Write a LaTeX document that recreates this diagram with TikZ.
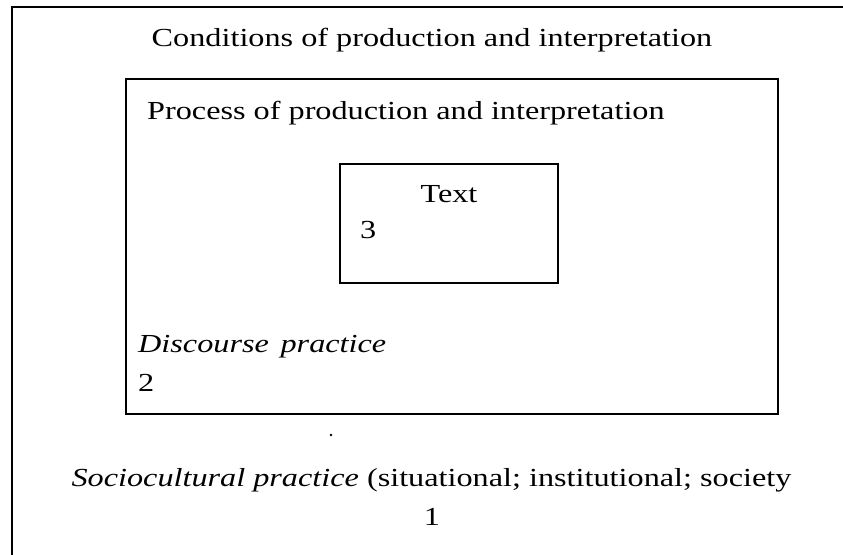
\documentclass[tikz,border=0pt]{standalone}
\usepackage{fontspec}
\setmainfont{Liberation Serif}[FakeStretch=1.24]
\begin{document}
\begin{tikzpicture}[x=1pt,y=1pt,
  frame/.style={draw=black,line width=1.6pt},
  lbl/.style={inner sep=0pt,font=\fontsize{26}{30}\selectfont}]
\useasboundingbox (0,0) rectangle (843,554);
\coordinate (otop) at (843,547);
\coordinate (ocorner) at (12,547);
\coordinate (obot) at (12,0);
\draw[frame,line cap=rect] (otop) -- (ocorner) -- (obot);
\node[frame,inner sep=0pt,minimum width=652pt,minimum height=335pt,anchor=north west] (proc) at (125,476) {};
\node[frame,inner sep=0pt,minimum width=218pt,minimum height=119pt,anchor=north west] (textbox) at (339,391) {};
\node[lbl,anchor=base] (cond) at (432,507) {Conditions of production and interpretation};
\node[lbl,anchor=base west] (proclbl) at (147,434) {Process of production and interpretation};
\node[lbl,anchor=base] (textlbl) at (449,351) {Text};
\node[lbl,anchor=base west] (three) at (360,315) {3};
\node[lbl,anchor=base west] (disc) at (138,201) {\itshape Discourse\hspace{0.45em}practice};
\node[lbl,anchor=base west] (two) at (138,162) {2};
\node[lbl,anchor=base] (socio) at (431.5,67) {\itshape Sociocultural practice\upshape{} (situational; institutional; society};
\node[lbl,anchor=base] (one) at (432,28) {1};
\fill (331,119) circle (1.3pt);
\end{tikzpicture}
\end{document}
